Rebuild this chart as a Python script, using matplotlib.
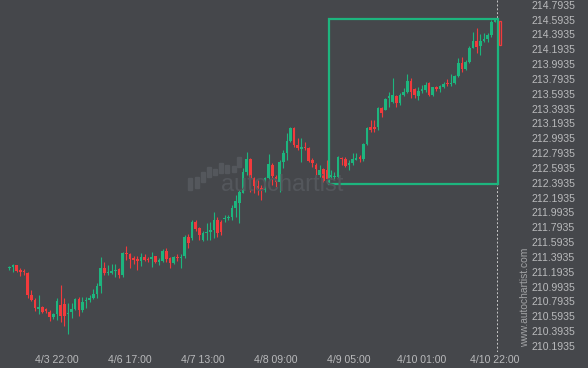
import matplotlib
matplotlib.use("Agg")
import matplotlib.pyplot as plt
from matplotlib.patches import Rectangle

# hourly candles
opens = [211.245, 211.259, 211.286, 211.218, 211.205, 211.178, 210.881, 210.814, 210.688, 210.719,
         210.688, 210.652, 210.584, 210.629, 210.746, 210.760, 210.631, 210.647, 210.688, 210.831,
         210.679, 210.800, 210.818, 210.845, 210.899,
         211.000, 211.241, 211.173, 211.178, 211.198, 211.227, 211.151, 211.447, 211.430, 211.376,
         211.362, 211.340, 211.398, 211.362, 211.362, 211.407, 211.330, 211.340, 211.474, 211.376,
         211.317, 211.394, 211.376, 211.407, 211.659,
         211.650, 211.870, 211.780, 211.623, 211.722, 211.736, 211.758, 211.892, 211.865, 211.901,
         211.923, 211.937, 212.058, 212.125, 212.260, 212.543, 212.714, 212.454, 212.350, 212.319,
         212.296, 212.454, 212.633, 212.476, 212.409, 212.678, 212.791,
         212.961, 213.128, 212.903, 212.845, 212.880, 212.867, 212.701, 212.633, 212.498, 212.575,
         212.566, 212.476, 212.472, 212.476, 212.723, 212.710, 212.633, 212.656, 212.701, 212.737,
         212.710, 212.916, 213.141, 213.141, 213.141, 213.397,
         213.375, 213.532, 213.486, 213.563, 213.473, 213.577, 213.621, 213.769, 213.657, 213.563,
         213.630, 213.644, 213.734, 213.577, 213.680, 213.662, 213.680, 213.734, 213.725, 213.734,
         213.833, 214.004, 213.923, 214.026, 214.214, 214.304, 214.237, 214.304, 214.327, 214.385,
         214.565]
highs = [211.276, 211.303, 211.290, 211.245, 211.232, 211.191, 210.948, 210.836, 210.881, 210.733,
         210.710, 210.679, 210.643, 210.836, 211.016, 210.840, 210.773, 210.773, 210.845, 210.858,
         210.858, 210.858, 210.881, 210.958, 211.047,
         211.394, 211.326, 211.286, 211.295, 211.295, 211.249, 211.464, 211.546, 211.443, 211.411,
         211.411, 211.443, 211.430, 211.398, 211.464, 211.407, 211.376, 211.501, 211.510, 211.398,
         211.407, 211.430, 211.430, 211.690, 211.699,
         211.892, 211.892, 211.798, 211.744, 211.848, 211.870, 212.005, 211.937, 211.892, 211.960,
         211.960, 212.094, 212.229, 212.296, 212.589, 212.804, 212.723, 212.476, 212.431, 212.364,
         212.476, 212.778, 212.656, 212.499, 212.701, 212.836, 213.061,
         213.150, 213.150, 212.993, 212.993, 212.947, 212.880, 212.723, 212.656, 212.633, 212.589,
         212.701, 212.566, 212.543, 212.755, 212.737, 212.737, 212.701, 212.791, 212.791, 212.768,
         212.925, 213.150, 213.240, 213.240, 213.419, 213.419,
         213.532, 213.621, 213.801, 213.577, 213.599, 213.671, 213.860, 213.801, 213.675, 213.689,
         213.711, 213.756, 213.756, 213.689, 213.698, 213.711, 213.752, 213.788, 213.860, 213.846,
         214.079, 214.093, 214.048, 214.237, 214.430, 214.476, 214.399, 214.408, 214.408, 214.587,
         214.610]
lows = [211.222, 211.191, 211.195, 211.141, 211.150, 210.841, 210.795, 210.670, 210.625, 210.634,
        210.643, 210.530, 210.553, 210.544, 210.520, 210.466, 210.359, 210.571, 210.679, 210.597,
        210.656, 210.701, 210.787, 210.831, 210.845,
        210.904, 211.151, 211.151, 211.160, 211.128, 211.106, 211.128, 211.353, 211.241, 211.295,
        211.218, 211.276, 211.340, 211.330, 211.263, 211.308, 211.286, 211.330, 211.330, 211.249,
        211.295, 211.344, 211.241, 211.384, 211.519,
        211.623, 211.749, 211.623, 211.609, 211.623, 211.623, 211.650, 211.663, 211.690, 211.870,
        211.892, 211.892, 211.937, 211.847, 212.252, 212.498, 212.274, 212.252, 212.229, 212.162,
        212.274, 212.440, 212.364, 212.341, 212.274, 212.589, 212.701,
        212.947, 212.880, 212.836, 212.678, 212.836, 212.678, 212.610, 212.498, 212.476, 212.400,
        212.386, 212.445, 212.431, 212.454, 212.633, 212.610, 212.566, 212.633, 212.701, 212.678,
        212.691, 212.903, 213.082, 213.082, 213.105, 213.284,
        213.375, 213.419, 213.465, 213.419, 213.442, 213.563, 213.599, 213.532, 213.532, 213.509,
        213.599, 213.621, 213.563, 213.563, 213.630, 213.621, 213.671, 213.698, 213.698, 213.725,
        213.823, 213.891, 213.913, 214.004, 214.206, 214.147, 214.116, 214.295, 214.295, 214.362,
        214.560]
closes = [211.252, 211.286, 211.209, 211.191, 211.185, 210.881, 210.818, 210.710, 210.723, 210.652,
          210.665, 210.584, 210.629, 210.804, 210.597, 210.597, 210.644, 210.692, 210.831, 210.679,
          210.791, 210.818, 210.844, 210.899, 211.000,
          211.241, 211.182, 211.195, 211.198, 211.218, 211.151, 211.447, 211.430, 211.362, 211.353,
          211.344, 211.398, 211.353, 211.349, 211.398, 211.322, 211.353, 211.474, 211.362, 211.317,
          211.398, 211.376, 211.398, 211.659, 211.578,
          211.866, 211.767, 211.690, 211.722, 211.736, 211.758, 211.892, 211.713, 211.730, 211.923,
          211.937, 212.058, 212.148, 212.274, 212.543, 212.714, 212.454, 212.350, 212.319, 212.296,
          212.454, 212.643, 212.485, 212.409, 212.678, 212.791, 212.961,
          213.128, 212.903, 212.867, 212.872, 212.862, 212.691, 212.656, 212.575, 212.566, 212.418,
          212.445, 212.499, 212.485, 212.737, 212.710, 212.624, 212.664, 212.710, 212.728, 212.718,
          212.916, 213.128, 213.105, 213.114, 213.406, 213.330,
          213.519, 213.563, 213.577, 213.465, 213.577, 213.621, 213.769, 213.621, 213.577, 213.635,
          213.657, 213.711, 213.577, 213.680, 213.662, 213.698, 213.725, 213.725, 213.742, 213.833,
          214.004, 213.923, 214.026, 214.214, 214.304, 214.228, 214.304, 214.327, 214.385, 214.565,
          214.587]

xtick_pos = [13, 33, 53, 73, 93, 113, 133]
xtick_labels = ["4/3 22:00", "4/6 17:00", "4/7 13:00", "4/8 09:00", "4/9 05:00", "4/10 01:00", "4/10 22:00"]
ytick_vals = [210.1935 + 0.2 * i for i in range(24)]

# pattern box (start/end candle, price range) and the last forecast bar
box_x = [87.6, 133.9]
box_y = [212.381, 214.597]
forecast_x = 134.4
forecast_y = [214.257, 214.575]

# faint watermark logo bars (pixels)
logo_x = [188, 195, 201, 207, 213, 219, 225, 232, 237]
logo_top = [178, 177, 172, 167, 169, 163, 165, 166, 157]
logo_bot = [190, 188, 182, 177, 175, 173, 173, 172, 167]

bg = "#45474b"
green = "#1db57e"
red = "#f23a3c"
txt = "#b9babc"

plt.rcParams['font.family'] = ['Liberation Sans', 'DejaVu Sans']

W, H = 588, 368
fig = plt.figure(figsize=(W / 100, H / 100), dpi=100, facecolor=bg)
ax = fig.add_axes([0, 16 / H, 512 / W, 352 / H])
ax.set_facecolor(bg)
for s in ax.spines.values():
    s.set_visible(False)

# watermark
for x, t, b in zip(logo_x, logo_top, logo_bot):
    fig.patches.append(Rectangle((x / W, 1 - b / H), 3.5 / W, (b - t) / H,
                                 transform=fig.transFigure, color="#54575c", zorder=0))
fig.text(282 / W, 1 - 185 / H, "autochartist", color="#54575c", fontsize=17,
         ha="center", va="center", zorder=0)

n = len(closes)
xs = list(range(n))
cols = [green if c >= o else red for o, c in zip(opens, closes)]
ax.vlines(xs, lows, highs, colors=cols, linewidth=0.8, zorder=2)
bottoms = [min(o, c) for o, c in zip(opens, closes)]
heights = [max(abs(c - o), 0.006) for o, c in zip(opens, closes)]
ax.bar(xs, heights, bottom=bottoms, width=0.72, color=cols, linewidth=0, zorder=3)

ax.add_patch(Rectangle((box_x[0], box_y[0]), box_x[1] - box_x[0], box_y[1] - box_y[0],
                       fill=False, edgecolor=green, linewidth=1.6, zorder=4))
ax.add_patch(Rectangle((forecast_x - 0.3, forecast_y[0]), 0.6, forecast_y[1] - forecast_y[0],
                       fill=False, edgecolor=red, linewidth=0.9, zorder=4))
ax.axvline(133.5, color="#c8c8c8", linestyle=(0, (2, 2)), linewidth=0.7, zorder=1)

ax.set_xlim(-2.6, 137.7)
ax.set_ylim(210.1125, 214.857)

ax.set_xticks(xtick_pos)
ax.set_xticklabels(xtick_labels)
ax.set_yticks(ytick_vals)
ax.set_yticklabels(["%.4f" % v for v in ytick_vals])
ax.yaxis.tick_right()
ax.tick_params(axis="y", length=0, pad=14.4, labelsize=7.6, labelcolor=txt)
ax.tick_params(axis="x", length=0, pad=2.5, labelsize=7.6, labelcolor=txt)

fig.text(525 / W, 1 - 297 / H, "www.autochartist.com", rotation=90, color="#a2a3a5",
         fontsize=7.4, ha="center", va="center")

fig.savefig("out.png", dpi=100, facecolor=bg)
